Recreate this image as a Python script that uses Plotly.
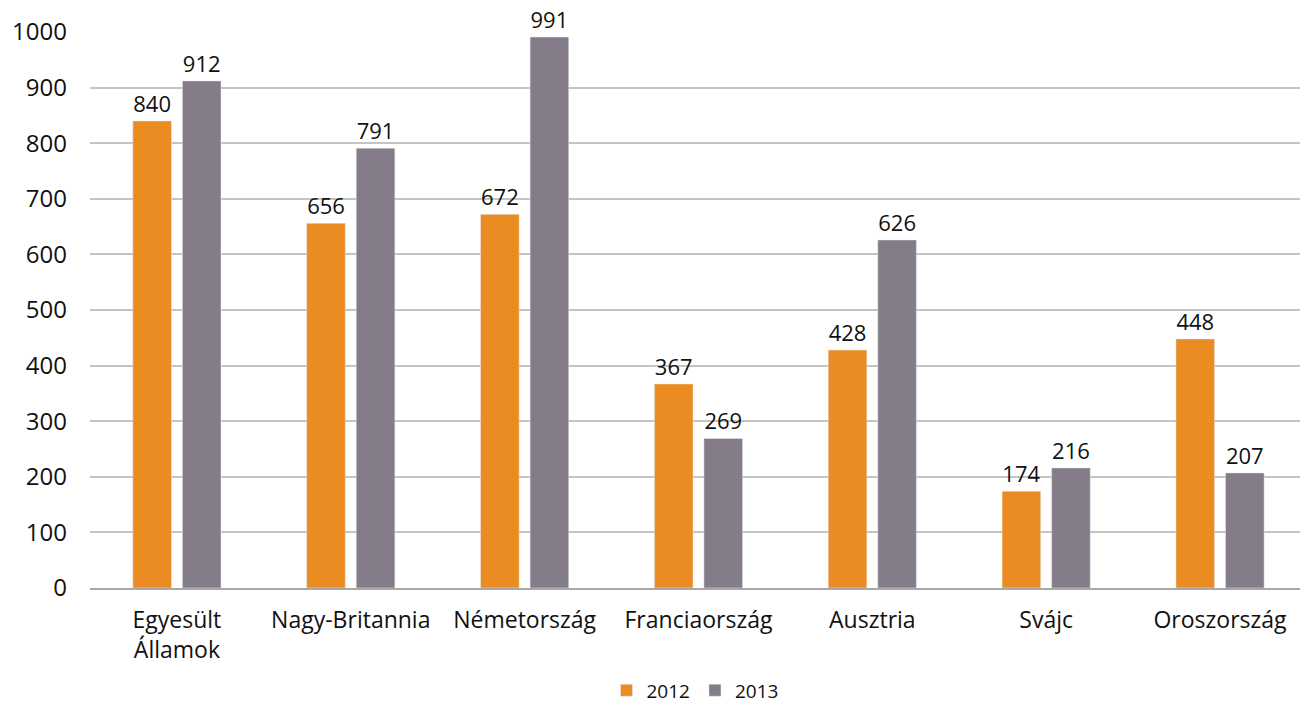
import plotly.graph_objects as go

countries = ["Egyesült<br>Államok", "Nagy-Britannia", "Németország", "Franciaország",
             "Ausztria", "Svájc", "Oroszország"]
values_2012 = [840, 656, 672, 367, 428, 174, 448]
values_2013 = [912, 791, 991, 269, 626, 216, 207]

font_family = "Open Sans, Lato, sans-serif"

fig = go.Figure()
fig.add_trace(go.Bar(x=countries, y=values_2012, name="2012", marker_color="#EB8C22",
                     text=values_2012, textposition="outside", cliponaxis=False,
                     textfont=dict(size=22, color="#111111")))
fig.add_trace(go.Bar(x=countries, y=values_2013, name="2013", marker_color="#847C89",
                     text=values_2013, textposition="outside", cliponaxis=False,
                     textfont=dict(size=22, color="#111111")))

fig.update_layout(
    width=1301, height=706,
    barmode="group", bargap=0.43, bargroupgap=0.22,
    plot_bgcolor="white", paper_bgcolor="white",
    font=dict(family=font_family, color="#111111"),
    margin=dict(l=90, r=1, t=32, b=118, autoexpand=False),
    legend=dict(orientation="h", x=0.5, xanchor="center", y=-0.15, yanchor="top",
                font=dict(size=19), itemwidth=30),
    showlegend=True,
)
fig.update_yaxes(range=[0, 1000], dtick=100, showgrid=True, gridcolor="#C4C4C4", gridwidth=1.5,
                 zeroline=False, showline=False, tickfont=dict(size=24), ticklabelstandoff=22,
                 automargin=False)
# last category sits a bit past the right edge in the original
fig.update_xaxes(range=[-0.5, 6.46], showline=True, linecolor="#A8A8A8", linewidth=2,
                 tickfont=dict(size=23), ticks="", ticklabelstandoff=10, automargin=False)

# drop the default 8px page margin so the figure fills the window
fig.write_html("out.html", config={"displayModeBar": False},
               post_script="document.body.style.margin='0';")
